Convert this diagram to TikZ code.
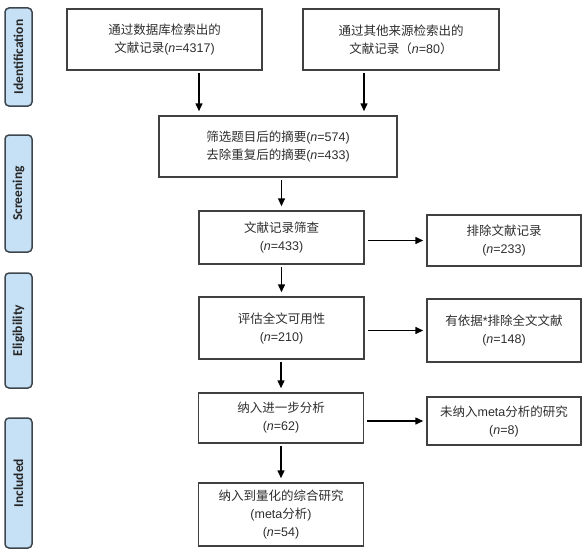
\documentclass[tikz,border=0pt]{standalone}
\usepackage{fontspec}
\setmainfont{Liberation Sans}
\newfontfamily\cjk{Noto Sans CJK SC}
\newfontfamily\stagefont{Carlito}
\usepackage{tikz}
\usetikzlibrary{calc}
\usetikzlibrary{arrows.meta}
\definecolor{stagefill}{RGB}{198,225,245}
\definecolor{stageline}{RGB}{62,70,78}
\definecolor{boxline}{RGB}{64,64,64}
\newcommand{\zh}[1]{{\cjk #1}}
\newcommand{\ncount}[1]{(\textit{n}=#1)}
\newcommand{\prisma}[6]{
  \node[flowbox, minimum width=#4pt, minimum height=#5pt] (#1) at (#2,#3) {#6};
}
\tikzset{
  flowbox/.style={draw=boxline, line width=1.5pt, align=center, text=black!82,
    font=\fontsize{12.5}{18}\selectfont, inner sep=2pt},
  stage/.style={draw=stageline, fill=stagefill, line width=1.5pt, rounded corners=4pt,
    rotate=90, minimum height=27pt, text=black!85,
    font=\stagefont\bfseries\fontsize{13.5}{15}\selectfont},
  arr/.style={-{Triangle[length=8pt,width=7pt]}, line width=1.5pt},
  vert/.style={shorten <=2pt, shorten >=4pt},
  horiz/.style={shorten <=3pt, shorten >=3pt}
}

\begin{document}
\begin{tikzpicture}[x=1pt,y=-1pt]
      \useasboundingbox (0,0) rectangle (586,551);
      \foreach \nm/\yc/\len in {Identification/57/98, Screening/193.5/117,
                                Eligibility/330.5/115, Included/483/130} {
        \node[stage, minimum width=\len pt] (s\nm) at (18.5,\yc) {\nm};
      }

      \prisma{db}{164.5}{39.5}{195}{61}{\zh{通过数据库检索出的}\\\zh{文献记录}\ncount{4317}}
      \prisma{other}{401}{39.5}{196}{61}{\zh{通过其他来源检索出的}\\\zh{文献记录（}\textit{n}=80\zh{）}}
      \prisma{abs}{278}{146.5}{238}{61}{\zh{筛选题目后的摘要}\ncount{574}\\\zh{去除重复后的摘要}\ncount{433}}

      \prisma{screen}{281.5}{237.5}{165}{53}{\zh{文献记录筛查}\\\ncount{433}}
      \prisma{full}{281.5}{328}{165}{62}{\zh{评估全文可用性}\\\ncount{210}}
      \prisma{further}{281}{418}{165}{50}{\zh{纳入进一步分析}\\\ncount{62}}
      \prisma{meta}{281}{514.5}{165}{63}{\zh{纳入到量化的综合研究}\\(meta\zh{分析})\\\ncount{54}}

      \prisma{excl1}{504}{240.5}{154}{51}{\zh{排除文献记录}\\\ncount{233}}
      \prisma{excl2}{504}{330.5}{154}{63}{\zh{有依据}*\zh{排除全文文献}\\\ncount{148}}
      \prisma{notmeta}{504}{421}{154}{48}{\zh{未纳入}meta\zh{分析的研究}\\\ncount{8}}

      \coordinate (dbx) at (199,0);
      \coordinate (otherx) at (364,0);
      \draw[arr, vert] (db.south -| dbx) -- (abs.north -| dbx);
      \draw[arr, vert] (other.south -| otherx) -- (abs.north -| otherx);
      \foreach \a/\b in {abs/screen, screen/full, full/further, further/meta} {
        \draw[arr, vert] (\a.south -| \b.north) -- (\b.north);
      }
      \foreach \a/\b in {screen/excl1, full/excl2, further/notmeta} {
        \draw[arr, horiz] (\a.east |- \b.west) -- (\b.west);
      }
\end{tikzpicture}
\end{document}
